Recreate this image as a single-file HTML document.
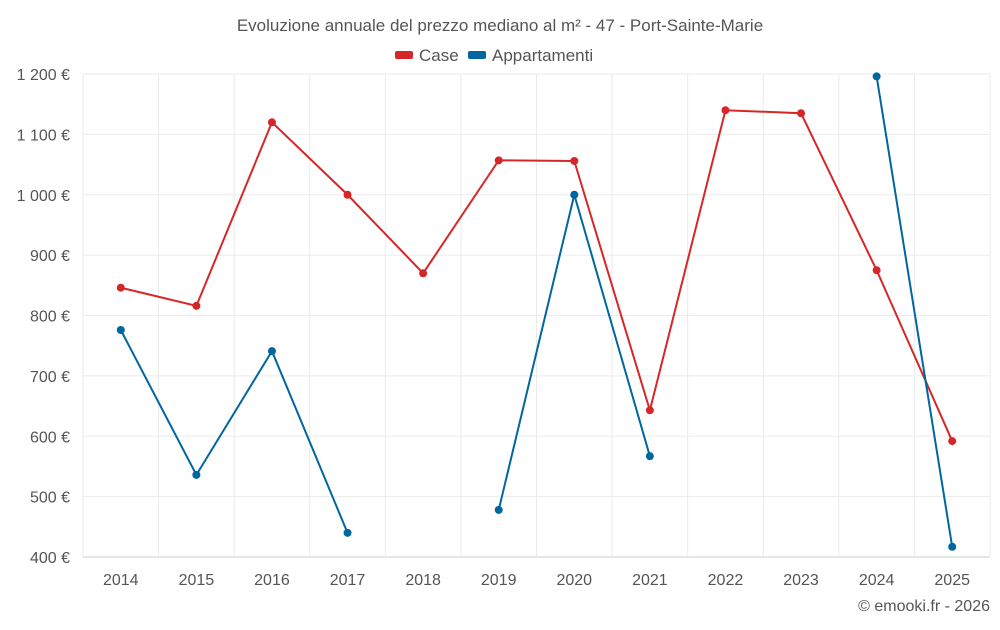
<!DOCTYPE html>
<html><head><meta charset="utf-8"><style>
body{margin:0;background:#fff;font-family:"Liberation Sans",sans-serif;}
svg text{font-family:"Liberation Sans",sans-serif;}
</style></head><body>
<svg id="c" width="1000" height="625">
<text x="500" y="31" text-anchor="middle" font-size="17" fill="#555">Evoluzione annuale del prezzo mediano al m² - 47 - Port-Sainte-Marie</text>
<g><rect x="395" y="51" width="18" height="8" rx="2" fill="#d62728"/><text x="419" y="61" font-size="17" fill="#555">Case</text></g>
<g><rect x="468" y="51" width="18" height="8" rx="2" fill="#0066a0"/><text x="492" y="61" font-size="17" fill="#555">Appartamenti</text></g>
<g id="grid"></g><g id="axes"></g><g id="series"></g>
<text x="990" y="611" text-anchor="end" font-size="16" fill="#555">© emooki.fr - 2026</text>
</svg>
<script>
const years=[2014,2015,2016,2017,2018,2019,2020,2021,2022,2023,2024,2025];
const caseVals=[846,816,1120,1000,870,1057,1056,643,1140,1135,875,592];
const aptVals=[776,536,741,440,null,478,1000,567,null,null,1196,417];
const yTicks=[400,500,600,700,800,900,1000,1100,1200];
const yLabels=["400 €","500 €","600 €","700 €","800 €","900 €","1 000 €","1 100 €","1 200 €"];
const NS="http://www.w3.org/2000/svg";
const x0=83,x1=990,yB=557,yT=74;
const step=(x1-x0)/years.length;
const X=i=>x0+step*(i+0.5);
const Y=v=>yB-(v-400)/800*(yB-yT);
function mk(t,a,p){const e=document.createElementNS(NS,t);for(const k in a)e.setAttribute(k,a[k]);p.appendChild(e);return e;}
const g=document.getElementById('grid'),ax=document.getElementById('axes'),s=document.getElementById('series');
yTicks.forEach((v,i)=>{
 const l=mk('line',{x1:x0,x2:x1,y1:Y(v),y2:Y(v),stroke:i?'#ebebeb':'#ccc'},g);
 
 
 const t=mk('text',{x:70,y:Y(v)+6,'text-anchor':'end','font-size':16,fill:'#555'},ax);
 t.textContent=yLabels[i];
 
 
});
for(let i=0;i<=years.length;i++){
 const l=mk('line',{x1:x0+step*i,x2:x0+step*i,y1:yT,y2:yB,stroke:'#ebebeb'},g);
 
 
}
years.forEach((y,i)=>{
 const t=mk('text',{x:X(i),y:585,'text-anchor':'middle','font-size':16,fill:'#555'},ax);
 t.textContent=y;
 
 
});
function draw(vals,col,name){
 let d='',pen=false;
 vals.forEach((v,i)=>{if(v==null){pen=false;return;}d+=(pen?'L':'M')+X(i)+' '+Y(v)+' ';pen=true;});
 const p=mk('path',{d:d,fill:'none',stroke:col,'stroke-width':2},s);
 
 
 vals.forEach((v,i)=>{if(v==null)return;
  const c=mk('circle',{cx:X(i),cy:Y(v),r:4,fill:col},s);
  
  
 });
}
draw(caseVals,'#d62728','case');
draw(aptVals,'#0066a0','appartamenti');
</script>
</body></html>
